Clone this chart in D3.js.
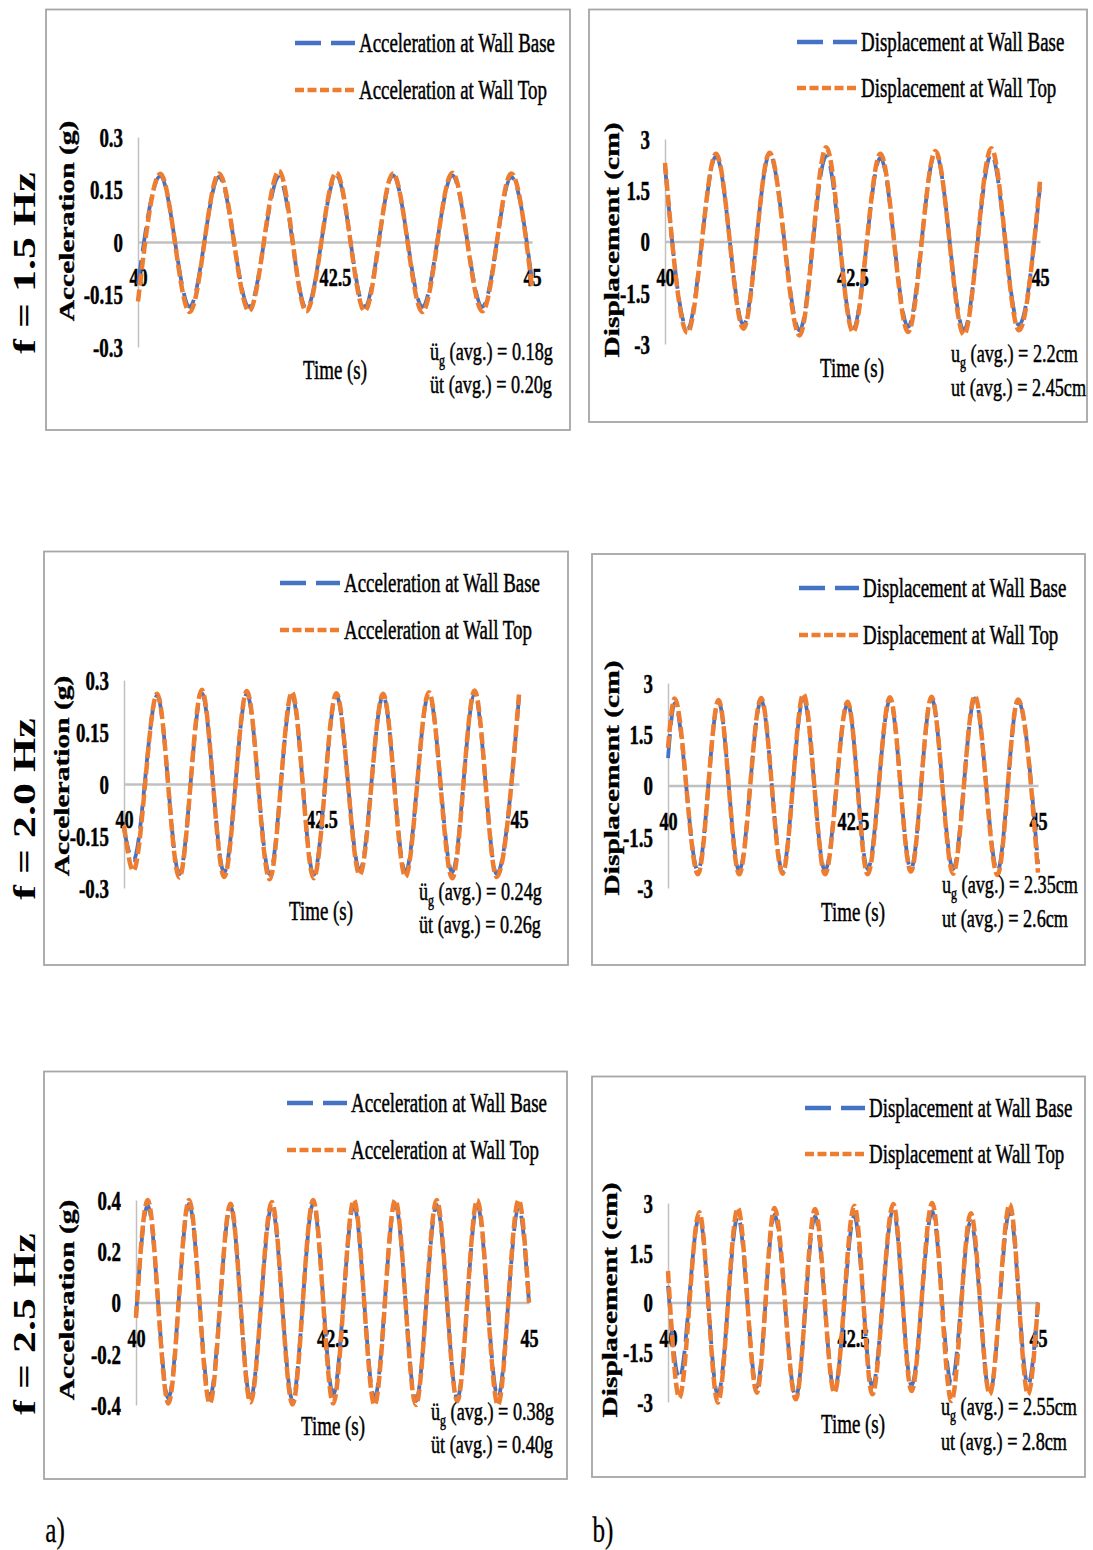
<!DOCTYPE html>
<html>
<head>
<meta charset="utf-8">
<script src="https://cdn.jsdelivr.net/npm/d3@7"></script>
<style>
  body { margin: 0; background: #fff; }
  svg text { font-family: "Liberation Serif", "Times New Roman", serif; fill: #000; stroke: #000; stroke-width: 0.5px; }
</style>
</head>
<body>
<div id="chart"></div>
<script>
// values: peaks / troughs of each record, time in s

// a) f = 1.5 Hz, acceleration (g)
const a1Time = [40.0, 40.283, 40.656, 41.028, 41.409, 41.789, 42.136, 42.517, 42.876, 43.236, 43.608, 43.989, 44.37, 44.738, 45.0];
const a1Base = [-0.12, 0.188, -0.185, 0.186, -0.185, 0.185, -0.19, 0.19, -0.185, 0.19, -0.185, 0.19, -0.185, 0.185, -0.11];
const a1Top = [-0.17, 0.195, -0.2, 0.196, -0.197, 0.203, -0.198, 0.198, -0.197, 0.196, -0.2, 0.198, -0.198, 0.196, -0.13];

// b) f = 1.5 Hz, displacement (cm)
const b1Time = [40.0, 40.298, 40.681, 41.046, 41.394, 41.794, 42.15, 42.507, 42.872, 43.241, 43.606, 43.985, 44.35, 44.719, 45.0];
const b1Base = [2.2, -2.55, 2.5, -2.45, 2.55, -2.6, 2.5, -2.55, 2.45, -2.5, 2.6, -2.6, 2.55, -2.45, 1.6];
const b1Top = [2.3, -2.67, 2.57, -2.55, 2.6, -2.75, 2.76, -2.65, 2.57, -2.65, 2.65, -2.73, 2.73, -2.6, 1.75];

// a) f = 2.0 Hz
const a2Time = [40.0, 40.118, 40.42, 40.70, 40.985, 41.268, 41.555, 41.843, 42.126, 42.401, 42.688, 42.984, 43.28, 43.563, 43.859, 44.155, 44.438, 44.717, 45.0];
const a2Base = [-0.13, -0.22, 0.255, -0.26, 0.262, -0.255, 0.26, -0.26, 0.255, -0.262, 0.255, -0.25, 0.255, -0.255, 0.26, -0.255, 0.26, -0.26, 0.25];
const a2Top = [-0.12, -0.25, 0.26, -0.27, 0.272, -0.268, 0.268, -0.275, 0.265, -0.272, 0.262, -0.262, 0.26, -0.268, 0.265, -0.272, 0.27, -0.268, 0.258];

// b) f = 2.0 Hz
const b2Time = [40.0, 40.09, 40.405, 40.683, 40.962, 41.259, 41.547, 41.83, 42.122, 42.428, 42.698, 42.999, 43.282, 43.561, 43.853, 44.146, 44.452, 44.73, 45.0];
const b2Base = [0.8, 2.4, -2.5, 2.45, -2.5, 2.5, -2.5, 2.55, -2.5, 2.4, -2.45, 2.5, -2.45, 2.55, -2.45, 2.55, -2.5, 2.48, -2.3];
const b2Top = [1.1, 2.55, -2.6, 2.5, -2.6, 2.56, -2.58, 2.68, -2.6, 2.45, -2.6, 2.58, -2.52, 2.6, -2.58, 2.62, -2.62, 2.52, -2.55];

// a) f = 2.5 Hz
const a3Time = [40.0, 40.149, 40.412, 40.675, 40.939, 41.202, 41.456, 41.728, 41.991, 42.254, 42.509, 42.772, 43.035, 43.298, 43.561, 43.825, 44.088, 44.342, 44.605, 44.868, 45.0];
const a3Base = [-0.05, 0.38, -0.375, 0.385, -0.37, 0.375, -0.375, 0.375, -0.38, 0.385, -0.36, 0.38, -0.375, 0.385, -0.385, 0.38, -0.375, 0.38, -0.37, 0.37, 0.0];
const a3Top = [-0.06, 0.4, -0.394, 0.4, -0.394, 0.385, -0.39, 0.392, -0.398, 0.4, -0.394, 0.4, -0.4, 0.4, -0.4, 0.4, -0.385, 0.4, -0.4, 0.4, 0.0];

// b) f = 2.5 Hz
const b3Time = [40.0, 40.153, 40.423, 40.674, 40.944, 41.2, 41.439, 41.727, 41.987, 42.248, 42.518, 42.761, 43.044, 43.291, 43.57, 43.83, 44.092, 44.348, 44.618, 44.865, 45.0];
const b3Base = [0.5, -2.3, 2.6, -2.8, 2.6, -2.55, 2.65, -2.85, 2.6, -2.65, 2.6, -2.55, 2.8, -2.5, 2.75, -2.45, 2.45, -2.75, 2.75, -2.5, 0.0];
const b3Top = [0.95, -2.87, 2.72, -3.02, 2.85, -2.72, 2.85, -2.92, 2.82, -2.72, 2.92, -2.77, 2.97, -2.67, 3.0, -2.97, 2.69, -2.77, 2.97, -2.77, 0.0];

// axis ticks and labels
const xTicks = [40, 42.5, 45];
const accTicks3 = [0.3, 0.15, 0, -0.15, -0.3];
const accTicks4 = [0.4, 0.2, 0, -0.2, -0.4];
const dispTicks = [3, 1.5, 0, -1.5, -3];
const accLegend = ["Acceleration at Wall Base", "Acceleration at Wall Top"];
const dispLegend = ["Displacement at Wall Base", "Displacement at Wall Top"];
const rowLabels = ["f = 1.5 Hz", "f = 2.0 Hz", "f = 2.5 Hz"];
const colLabels = ["a)", "b)"];
const a1Note = ["0.18g", "0.20g"];
const b1Note = ["2.2cm", "2.45cm"];
const a2Note = ["0.24g", "0.26g"];
const b2Note = ["2.35cm", "2.6cm"];
const a3Note = ["0.38g", "0.40g"];
const b3Note = ["2.55cm", "2.8cm"];

const BLUE = "#4472C4", ORANGE = "#ED7D31", AXIS = "#c0c0c0";
const SX = 0.7; // the whole figure is squeezed horizontally

const panels = [
  { frame: [46, 9.5, 570, 430], x0: 138, x1: 532, yTop: 137, yBot: 347, domain: [-0.3, 0.3], ticks: accTicks3,
    time: a1Time, base: a1Base, top: a1Top, legend: accLegend, lx: 295, ly: [43, 90],
    title: "Acceleration (g)", tx: 67, ty: 221, timeX: 335, timeY: 379, annX: 430, annY: [360, 393], note: a1Note, sym: "ü" },
  { frame: [589, 9.5, 1087, 422], x0: 665, x1: 1040, yTop: 139, yBot: 344, domain: [-3, 3], ticks: dispTicks,
    time: b1Time, base: b1Base, top: b1Top, legend: dispLegend, lx: 797, ly: [42, 88],
    title: "Displacement (cm)", tx: 612, ty: 240, timeX: 852, timeY: 377, annX: 951, annY: [362, 396], note: b1Note, sym: "u" },
  { frame: [44, 551.5, 568, 965], x0: 124, x1: 519, yTop: 680, yBot: 888, domain: [-0.3, 0.3], ticks: accTicks3,
    time: a2Time, base: a2Base, top: a2Top, legend: accLegend, lx: 280, ly: [583, 630],
    title: "Acceleration (g)", tx: 62, ty: 776, timeX: 321, timeY: 920, annX: 419, annY: [900, 933], note: a2Note, sym: "ü" },
  { frame: [592, 554, 1085, 965], x0: 668, x1: 1038, yTop: 683, yBot: 888, domain: [-3, 3], ticks: dispTicks,
    time: b2Time, base: b2Base, top: b2Top, legend: dispLegend, lx: 799, ly: [588, 635],
    title: "Displacement (cm)", tx: 612, ty: 778, timeX: 853, timeY: 921, annX: 942, annY: [893, 927], note: b2Note, sym: "u" },
  { frame: [44, 1071.5, 567, 1479], x0: 136, x1: 529, yTop: 1200, yBot: 1405, domain: [-0.4, 0.4], ticks: accTicks4,
    time: a3Time, base: a3Base, top: a3Top, legend: accLegend, lx: 287, ly: [1103, 1150],
    title: "Acceleration (g)", tx: 67, ty: 1300, timeX: 333, timeY: 1435, annX: 431, annY: [1420, 1453], note: a3Note, sym: "ü" },
  { frame: [592, 1076.5, 1085, 1477], x0: 668, x1: 1038, yTop: 1203, yBot: 1402, domain: [-3, 3], ticks: dispTicks,
    time: b3Time, base: b3Base, top: b3Top, legend: dispLegend, lx: 805, ly: [1108, 1154],
    title: "Displacement (cm)", tx: 610, ty: 1300, timeX: 853, timeY: 1433, annX: 941, annY: [1415, 1450], note: b3Note, sym: "u" }
];

const svg = d3.select("#chart").append("svg")
  .attr("width", 1093)
  .attr("height", 1550);

function squeezed(g, x, y, str, size, weight, anchor) {
  return g.append("text")
    .attr("transform", `translate(${x},${y}) scale(${SX},1)`)
    .attr("text-anchor", anchor || "start")
    .style("font-size", size + "px")
    .style("font-weight", weight || "normal")
    .text(str);
}

panels.forEach(p => {
  const g = svg.append("g");
  const [fx0, fy0, fx1, fy1] = p.frame;

  g.append("rect")
    .attr("x", fx0).attr("y", fy0)
    .attr("width", fx1 - fx0).attr("height", fy1 - fy0)
    .attr("fill", "none").attr("stroke", "#a6a6a6").attr("stroke-width", 1.8);

  const x = d3.scaleLinear().domain([40, 45]).range([p.x0, p.x1]);
  const y = d3.scaleLinear().domain(p.domain).range([p.yBot, p.yTop]);

  // y axis
  const yAx = g.append("g")
    .attr("transform", `translate(${p.x0},0)`)
    .call(d3.axisLeft(y).tickValues(p.ticks).tickSize(0).tickFormat(d => String(d)));
  yAx.select(".domain").attr("stroke", AXIS).attr("stroke-width", 1.5);
  yAx.selectAll("text")
    .attr("x", null).attr("dy", "0.35em")
    .attr("transform", `translate(-15,0) scale(${SX},1)`)
    .style("font-size", "27px").style("font-weight", "bold");

  // x axis sits on the zero line, labels hang below it
  const xAx = g.append("g")
    .attr("transform", `translate(0,${y(0)})`)
    .call(d3.axisBottom(x).tickValues(xTicks).tickSize(0).tickFormat(d => String(d)));
  xAx.select(".domain").attr("stroke", AXIS).attr("stroke-width", 2.5);
  xAx.selectAll("text")
    .attr("y", null).attr("dy", "0.35em")
    .attr("transform", `translate(0,35) scale(${SX},1)`)
    .style("font-size", "26px").style("font-weight", "bold");

  // the two records, wall top drawn over wall base
  const line = d3.line()
    .x((d, i) => x(p.time[i]))
    .y(d => y(d))
    .curve(d3.curveMonotoneX);
  g.append("path").datum(p.base).attr("d", line)
    .attr("fill", "none").attr("stroke", BLUE).attr("stroke-width", 3.8)
    .attr("stroke-dasharray", "24 9");
  g.append("path").datum(p.top).attr("d", line)
    .attr("fill", "none").attr("stroke", ORANGE).attr("stroke-width", 4.5)
    .attr("stroke-dasharray", "12 4");

  // legend
  [[BLUE, "26 10", 4.5], [ORANGE, "9 3.5", 4.5]].forEach((s, i) => {
    g.append("line")
      .attr("x1", p.lx).attr("x2", p.lx + 60)
      .attr("y1", p.ly[i]).attr("y2", p.ly[i])
      .attr("stroke", s[0]).attr("stroke-width", s[2]).attr("stroke-dasharray", s[1]);
    squeezed(g, p.lx + 64, p.ly[i] + 9, p.legend[i], 27);
  });

  // axis titles
  g.append("text")
    .attr("transform", `translate(${p.tx},${p.ty}) scale(${SX},1) rotate(-90)`)
    .attr("text-anchor", "middle")
    .attr("dominant-baseline", "central")
    .style("font-size", "29.5px").style("font-weight", "bold")
    .text(p.title);
  squeezed(g, p.timeX, p.timeY, "Time (s)", 27, "normal", "middle");

  // averages
  const t1 = squeezed(g, p.annX, p.annY[0], "", 26);
  t1.append("tspan").text(p.sym);
  t1.append("tspan").attr("dy", 6).style("font-size", "17px").text("g");
  t1.append("tspan").attr("dy", -6).text(" (avg.) = " + p.note[0]);
  squeezed(g, p.annX, p.annY[1], p.sym + "t (avg.) = " + p.note[1], 26);
});

// row and column labels
[263, 809, 1324].forEach((cy, i) => {
  svg.append("text")
    .attr("transform", `translate(24,${cy}) scale(${SX},1) rotate(-90)`)
    .attr("text-anchor", "middle")
    .attr("dominant-baseline", "central")
    .style("font-size", "44px").style("font-weight", "bold")
    .style("stroke-width", "0px")
    .text(rowLabels[i]);
});
[55, 603].forEach((cx, i) => {
  squeezed(svg, cx, 1542, colLabels[i], 36, "normal", "middle").style("stroke-width", "0.3px");
});
</script>
</body>
</html>
